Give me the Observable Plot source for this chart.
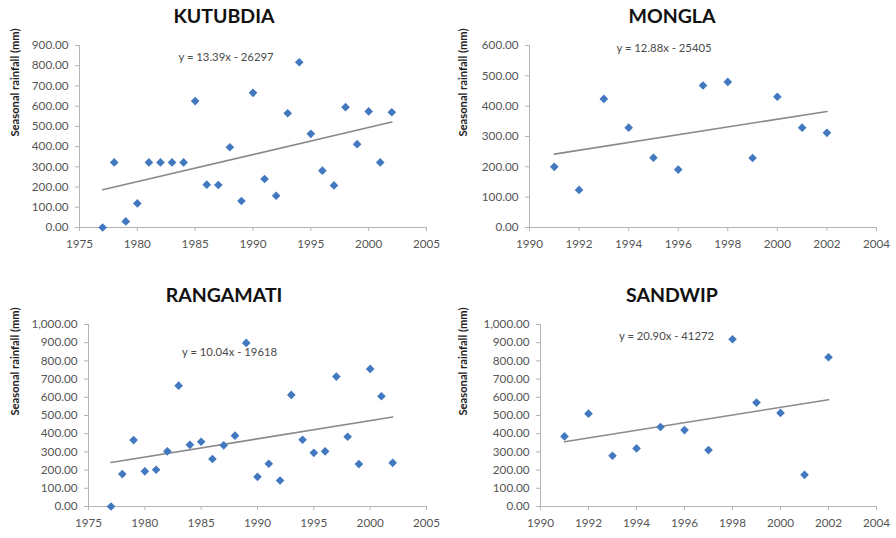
<!DOCTYPE html>
<html>
<head>
<meta charset="utf-8">
<script src="https://cdn.jsdelivr.net/npm/d3@7"></script>
<script src="https://cdn.jsdelivr.net/npm/@observablehq/plot@0.6"></script>
<style>
  html, body { margin: 0; padding: 0; background: #fff; }
  #wrap { position: relative; width: 896px; height: 538px; background: #fff; font-family: Lato, "Open Sans", sans-serif; }
  .cell { position: absolute; width: 448px; height: 269px; }
  .cell svg { position: absolute; left: 0; top: 0; }
  .title { position: absolute; left: 0; width: 448px; text-align: center; font: bold 19.5px/19px Lato, sans-serif; color: #111; }
</style>
</head>
<body>
<div id="wrap"></div>
<script>
// ---- data ----
const stations = ["KUTUBDIA", "MONGLA", "RANGAMATI", "SANDWIP"];

const kutubdiaYears = [1977,1978,1979,1980,1981,1982,1983,1984,1985,1986,1987,1988,1989,1990,1991,1992,1993,1994,1995,1996,1997,1998,1999,2000,2001,2002];
const kutubdiaRain  = [0,322,30,119,322,322,322,322,625,212,210,397,131,666,240,157,565,817,463,281,208,595,412,574,322,570];

const monglaYears = [1991,1992,1993,1994,1995,1996,1997,1998,1999,2000,2001,2002];
const monglaRain  = [200,124,424,329,230,191,468,480,229,431,329,312];

const rangamatiYears = [1977,1978,1979,1980,1981,1982,1983,1984,1985,1986,1987,1988,1989,1990,1991,1992,1993,1994,1995,1996,1997,1998,1999,2000,2001,2002];
const rangamatiRain  = [0,178,365,193,202,303,664,339,356,261,336,389,899,163,235,143,613,367,295,303,714,383,233,756,606,240];

const sandwipYears = [1991,1992,1993,1994,1995,1996,1997,1998,1999,2000,2001,2002];
const sandwipRain  = [385,510,279,319,437,420,310,919,571,514,174,820];

const equations = ["y = 13.39x - 26297", "y = 12.88x - 25405", "y = 10.04x - 19618", "y = 20.90x - 41272"];

const xTicksLong  = [1975,1980,1985,1990,1995,2000,2005];
const xTicksShort = [1990,1992,1994,1996,1998,2000,2002,2004];
const yTicks900  = [0,100,200,300,400,500,600,700,800,900];
const yTicks600  = [0,100,200,300,400,500,600];
const yTicks1000 = [0,100,200,300,400,500,600,700,800,900,1000];

const yLabel = "Seasonal rainfall (mm)";

// ---- layout / style per panel ----
const panels = [
  {name: stations[0], years: kutubdiaYears,  rain: kutubdiaRain,  eq: equations[0], xt: xTicksLong,  yt: yTicks900,
   left: 0,   top: 0,   m: [45, 22, 42, 79], titleTop: 6,  eqd: [-27, 7]},
  {name: stations[1], years: monglaYears,    rain: monglaRain,    eq: equations[1], xt: xTicksShort, yt: yTicks600,
   left: 448, top: 0,   m: [45, 20, 42, 81], titleTop: 6,  eqd: [-39, -2]},
  {name: stations[2], years: rangamatiYears, rain: rangamatiRain, eq: equations[2], xt: xTicksLong,  yt: yTicks1000,
   left: 0,   top: 269, m: [55, 22, 32, 88], titleTop: 16, eqd: [-28, 23]},
  {name: stations[3], years: sandwipYears,   rain: sandwipRain,   eq: equations[3], xt: xTicksShort, yt: yTicks1000,
   left: 448, top: 269, m: [55, 20, 32, 92], titleTop: 16, eqd: [-42, 7]}
];

const axisColor = "#b4b4b4";
const textColor = "#555555";
const dotColor = "#4178c0";
const fmt = d3.format(",.2f");

const wrap = document.getElementById("wrap");
for (const p of panels) {
  const data = p.years.map((yr, i) => ({year: yr, rain: p.rain[i]}));
  const xDom = [p.xt[0], p.xt[p.xt.length - 1]];
  const yDom = [p.yt[0], p.yt[p.yt.length - 1]];
  const cell = document.createElement("div");
  cell.className = "cell";
  cell.style.left = p.left + "px";
  cell.style.top = p.top + "px";
  const chart = Plot.plot({
    width: 448,
    height: 269,
    marginTop: p.m[0], marginRight: p.m[1], marginBottom: p.m[2], marginLeft: p.m[3],
    style: {fontFamily: "Lato, sans-serif", fontSize: "11.5px", background: "transparent", overflow: "visible"},
    x: {domain: xDom},
    y: {domain: yDom},
    marks: [
      Plot.ruleY([yDom[0]], {stroke: axisColor, strokeWidth: 1}),
      Plot.ruleX([xDom[0]], {stroke: axisColor, strokeWidth: 1}),
      Plot.axisY({ticks: p.yt, tickFormat: fmt, tickSize: 4, tickPadding: 7, stroke: axisColor, fill: textColor, label: null, fontSize: 11.7}),
      Plot.axisX({ticks: p.xt, tickFormat: d => String(d), tickSize: 4, tickPadding: 8, stroke: axisColor, fill: textColor, label: null, fontSize: 11.7}),
      Plot.linearRegressionY(data, {x: "year", y: "rain", stroke: "#8a8a8a", strokeWidth: 1.6, ci: 0}),
      Plot.dot(data, {x: "year", y: "rain", symbol: "diamond2", r: 3.9, fill: dotColor, stroke: "none"}),
      Plot.text([p.eq], {frameAnchor: "top", text: d => d, dx: p.eqd[0], dy: p.eqd[1], fill: "#4a4a4a", fontSize: 11.3}),
      Plot.text([yLabel], {frameAnchor: "left", text: d => d, rotate: -90, dx: 15 - p.m[3], fill: "#222", fontWeight: "bold", fontSize: 11.2})
    ]
  });
  cell.appendChild(chart);
  const t = document.createElement("div");
  t.className = "title";
  t.style.top = p.titleTop + "px";
  t.textContent = p.name;
  cell.appendChild(t);
  wrap.appendChild(cell);
}
</script>
</body>
</html>
